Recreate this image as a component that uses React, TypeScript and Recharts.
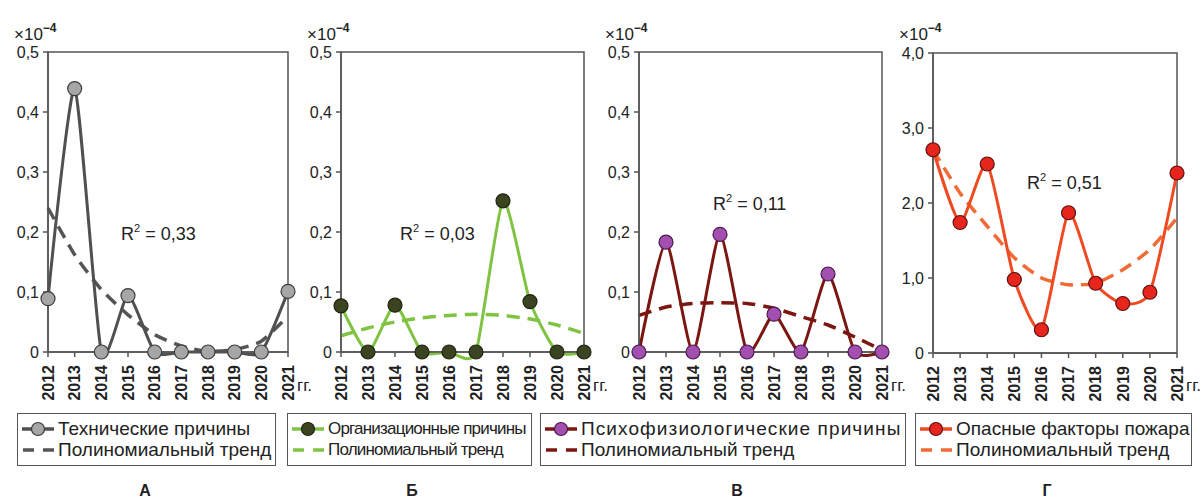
import { Line, LineChart, ReferenceArea, XAxis, YAxis } from "recharts";

const years = ["2012", "2013", "2014", "2015", "2016", "2017", "2018", "2019", "2020", "2021"];

// А – технические причины
const techCauses = [0.089, 0.439, 0, 0.094, 0, 0, 0, 0, 0, 0.101];
const techTrend = [0.24, 0.162, 0.104, 0.062, 0.029, 0.01, 0.001, 0.004, 0.018, 0.06];

// Б – организационные причины
const orgCauses = [0.077, 0, 0.078, 0, 0, 0, 0.252, 0.084, 0, 0];
const orgTrend = [0.027, 0.04, 0.05, 0.057, 0.061, 0.063, 0.061, 0.055, 0.045, 0.031];

// В – психофизиологические причины
const psychoCauses = [0, 0.183, 0, 0.196, 0, 0.063, 0, 0.13, 0, 0];
const psychoTrend = [0.061, 0.075, 0.081, 0.082, 0.081, 0.073, 0.059, 0.045, 0.025, 0.003];

// Г – опасные факторы пожара
const fireFactors = [2.71, 1.74, 2.52, 0.98, 0.31, 1.87, 0.93, 0.66, 0.81, 2.4];
const fireTrend = [2.71, 2.13, 1.69, 1.27, 1.0, 0.91, 0.93, 1.11, 1.38, 1.8];

const smallTicks = [0, 0.1, 0.2, 0.3, 0.4, 0.5];
const bigTicks = [0, 1, 2, 3, 4];

const FONT = '"Liberation Sans", Arial, sans-serif';
const AXIS = "#555";
const TEXT = "#222";

// Excel-like smoothed line (cardinal spline, mild tension)
function smoothCurve(context: any) {
  let x0 = NaN, y0 = NaN, x1 = NaN, y1 = NaN, x2 = NaN, y2 = NaN;
  let n = 0;
  const k = 0.1;
  const seg = (x: number, y: number) => {
    context.bezierCurveTo(
      x1 + k * (x2 - x0),
      y1 + k * (y2 - y0),
      x2 + k * (x1 - x),
      y2 + k * (y1 - y),
      x2,
      y2
    );
  };
  return {
    areaStart() {},
    areaEnd() {},
    lineStart() {
      x0 = x1 = x2 = y0 = y1 = y2 = NaN;
      n = 0;
    },
    lineEnd() {
      if (n === 2) context.lineTo(x2, y2);
      else if (n === 3) seg(x1, y1);
    },
    point(x: number, y: number) {
      if (n === 0) {
        n = 1;
        context.moveTo(x, y);
      } else if (n === 1) {
        n = 2;
        x1 = x;
        y1 = y;
      } else {
        n = 3;
        seg(x, y);
      }
      x0 = x1; x1 = x2; x2 = x;
      y0 = y1; y1 = y2; y2 = y;
    },
  };
}

const YearTick = (props: any) => {
  const { x, y, payload } = props;
  const ty = y + 6;
  return (
    <text
      x={x}
      y={ty}
      transform={`rotate(-90, ${x}, ${ty})`}
      textAnchor="end"
      dy="0.36em"
      fontSize={16}
      fontWeight="bold"
      fill={TEXT}
      fontFamily={FONT}
    >
      {payload.value}
    </text>
  );
};

const fmtTick = (v: number) => (v === 0 ? "0" : v.toFixed(1).replace(".", ","));

type PanelProps = {
  values: number[];
  trend: number[];
  max: number;
  ticks: number[];
  chartLeft: number;
  plotRight: number;
  plotTop: number;
  lineColor: string;
  trendColor: string;
  dotFill: string;
  dotStroke: string;
  r2: string;
  r2Pos: [number, number];
  seriesName: string;
  legendLeft: number;
  legendWidth: number;
  legendFont: number;
  legendSpacing: number;
  nameSpacing: number;
  letter: string;
  letterX: number;
};

function LegendIcon({ color, dot, dotStroke, dashed }: { color: string; dot?: string; dotStroke?: string; dashed?: boolean }) {
  return (
    <svg width={34} height={18} style={{ display: "block", flex: "none" }}>
      {dashed ? (
        <line x1={2} y1={9} x2={33} y2={9} stroke={color} strokeWidth={3.5} strokeDasharray="11 9" />
      ) : (
        <>
          <line x1={1} y1={9} x2={33} y2={9} stroke={color} strokeWidth={3.5} />
          <circle cx={17} cy={9} r={6.5} fill={dot} stroke={dotStroke} strokeWidth={1.2} />
        </>
      )}
    </svg>
  );
}

function Panel(p: PanelProps) {
  const data = years.map((year, i) => ({ year, value: p.values[i], trend: p.trend[i] }));
  const yAxisWidth = 48;
  const width = p.plotRight - p.chartLeft + 8;
  const height = p.plotTop + 300 + 60;
  const plotLeft = p.chartLeft + yAxisWidth;
  return (
    <>
      <div style={{ position: "absolute", left: p.chartLeft, top: 0 }}>
        <LineChart width={width} height={height} data={data} margin={{ top: p.plotTop, right: 8, left: 0, bottom: 0 }}>
          <XAxis
            dataKey="year"
            padding={{ left: 0, right: 0 }}
            height={60}
            interval={0}
            tick={(tp: any) => <YearTick {...tp} />}
            tickSize={5}
            axisLine={{ stroke: AXIS, strokeWidth: 1.5 }}
            tickLine={{ stroke: AXIS, strokeWidth: 1.5 }}
          />
          <YAxis
            width={yAxisWidth}
            domain={[0, p.max]}
            ticks={p.ticks}
            tickFormatter={fmtTick}
            tickSize={5}
            tickMargin={4}
            tick={{ fill: TEXT, fontSize: 16, fontFamily: FONT }}
            axisLine={{ stroke: AXIS, strokeWidth: 1.5 }}
            tickLine={{ stroke: AXIS, strokeWidth: 1.5 }}
          />
          <ReferenceArea
            x1={years[0]}
            x2={years[years.length - 1]}
            y1={0}
            y2={p.max}
            fill="none"
            fillOpacity={0}
            stroke={AXIS}
            strokeWidth={1.5}
          />
          <Line
            dataKey="trend"
            type={smoothCurve as any}
            stroke={p.trendColor}
            strokeWidth={3.5}
            strokeDasharray="13 8"
            dot={false}
            activeDot={false}
            isAnimationActive={false}
          />
          <Line
            dataKey="value"
            type={smoothCurve as any}
            stroke={p.lineColor}
            strokeWidth={3}
            dot={{ r: 7, fill: p.dotFill, stroke: p.dotStroke, strokeWidth: 1.2 }}
            activeDot={false}
            isAnimationActive={false}
          />
        </LineChart>
      </div>
      <div style={{ position: "absolute", left: plotLeft - 34, top: 22, fontSize: 17, fontFamily: FONT, color: TEXT, lineHeight: 1, whiteSpace: "nowrap" }}>
        ×10<sup style={{ fontSize: 12, fontWeight: "bold", verticalAlign: 8 }}>−4</sup>
      </div>
      <div style={{ position: "absolute", left: p.plotRight + 9, top: 377, fontSize: 17, fontFamily: FONT, color: TEXT, lineHeight: 1 }}>
        гг.
      </div>
      <div style={{ position: "absolute", left: p.r2Pos[0], top: p.r2Pos[1] - 10, fontSize: 18, fontFamily: FONT, color: TEXT, lineHeight: 1, whiteSpace: "nowrap" }}>
        R<sup style={{ fontSize: 11, verticalAlign: 8 }}>2</sup> = {p.r2}
      </div>
      <div
        style={{
          position: "absolute",
          left: p.legendLeft,
          top: 413,
          width: p.legendWidth,
          height: 53,
          boxSizing: "border-box",
          border: `1.5px solid ${AXIS}`,
          fontFamily: FONT,
          fontSize: p.legendFont,
          letterSpacing: p.legendSpacing,
          color: TEXT,
          padding: "4px 0 0 3px",
          whiteSpace: "nowrap",
        }}
      >
        <div style={{ display: "flex", alignItems: "center", height: 21 }}>
          <LegendIcon color={p.lineColor} dot={p.dotFill} dotStroke={p.dotStroke} />
          <span style={{ marginLeft: 3, letterSpacing: p.legendSpacing + p.nameSpacing }}>{p.seriesName}</span>
        </div>
        <div style={{ display: "flex", alignItems: "center", height: 21 }}>
          <LegendIcon color={p.trendColor} dashed />
          <span style={{ marginLeft: 3 }}>Полиномиальный тренд</span>
        </div>
      </div>
      <div
        style={{
          position: "absolute",
          left: p.letterX - 40,
          top: 483,
          width: 80,
          textAlign: "center",
          fontFamily: FONT,
          fontWeight: "bold",
          fontSize: 16,
          color: TEXT,
          lineHeight: "16px",
        }}
      >
        {p.letter}
      </div>
    </>
  );
}

export default function App() {
  return (
    <div style={{ position: "absolute", left: 0, top: 0, width: 1203, height: 500, background: "#fff", overflow: "hidden" }}>
      <Panel
        values={techCauses}
        trend={techTrend}
        max={0.5}
        ticks={smallTicks}
        chartLeft={0}
        plotRight={288}
        plotTop={52}
        lineColor="#505050"
        trendColor="#555555"
        dotFill="#a6a6a6"
        dotStroke="#3a3a3a"
        r2="0,33"
        r2Pos={[121, 233]}
        seriesName="Технические причины"
        legendLeft={17}
        legendWidth={259}
        legendFont={19}
        legendSpacing={0}
        nameSpacing={0}
        letter="А"
        letterX={145}
      />
      <Panel
        values={orgCauses}
        trend={orgTrend}
        max={0.5}
        ticks={smallTicks}
        chartLeft={293}
        plotRight={584}
        plotTop={52}
        lineColor="#80c342"
        trendColor="#80c342"
        dotFill="#3b4420"
        dotStroke="#1e2410"
        r2="0,03"
        r2Pos={[400, 233]}
        seriesName="Организационные причины"
        legendLeft={287}
        legendWidth={245}
        legendFont={17}
        legendSpacing={-0.8}
        nameSpacing={0}
        letter="Б"
        letterX={412}
      />
      <Panel
        values={psychoCauses}
        trend={psychoTrend}
        max={0.5}
        ticks={smallTicks}
        chartLeft={591}
        plotRight={882}
        plotTop={52}
        lineColor="#7b1610"
        trendColor="#7b1610"
        dotFill="#a24fb0"
        dotStroke="#4a1a4a"
        r2="0,11"
        r2Pos={[713, 203]}
        seriesName="Психофизиологические причины"
        legendLeft={540}
        legendWidth={366}
        legendFont={19}
        legendSpacing={0}
        nameSpacing={1.1}
        letter="В"
        letterX={737}
      />
      <Panel
        values={fireFactors}
        trend={fireTrend}
        max={4}
        ticks={bigTicks}
        chartLeft={885}
        plotRight={1177}
        plotTop={53}
        lineColor="#f04a23"
        trendColor="#f26a35"
        dotFill="#e8251c"
        dotStroke="#5a1010"
        r2="0,51"
        r2Pos={[1027, 182]}
        seriesName="Опасные факторы пожара"
        legendLeft={915}
        legendWidth={277}
        legendFont={19}
        legendSpacing={0}
        nameSpacing={0}
        letter="Г"
        letterX={1047}
      />
    </div>
  );
}
